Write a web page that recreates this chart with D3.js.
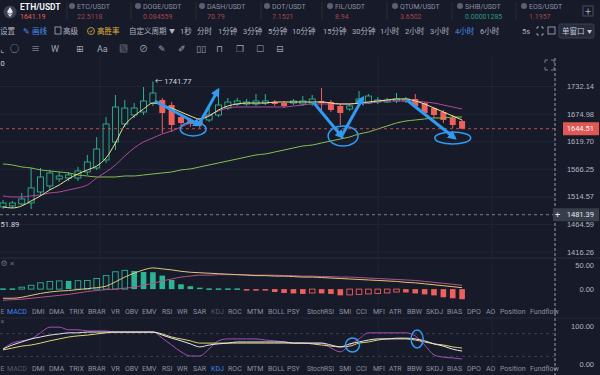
<!DOCTYPE html>
<html>
<head>
<meta charset="utf-8">
<script src="https://cdn.jsdelivr.net/npm/d3@7"></script>
<style>
  body { margin: 0; background: #161a29; }
  svg { display: block; font-family: Roboto, "Noto Sans CJK SC", "DejaVu Sans", sans-serif; }
</style>
</head>
<body>
<svg id="chart" width="600" height="375"></svg>
<script>
// Step-1 : chart values //
var tickerNames = ["ETH/USDT", "ETC/USDT", "DOGE/USDT", "DASH/USDT", "DOT/USDT", "FIL/USDT", "QTUM/USDT", "SHIB/USDT", "EOS/USDT"];
var tickerPrices = ["1641.19", "22.5118", "0.084559", "70.79", "7.1521", "8.94", "3.6502", "0.00001285", "1.1957"];
var tickerRising = [false, false, false, false, false, false, false, true, false];

var toolbarLabels = ["设置", "画线", "高级", "高胜率", "自定义周期", "1秒", "分时", "1分钟", "3分钟", "5分钟", "10分钟", "15分钟", "30分钟", "1小时", "2小时", "3小时", "4小时", "6小时", "5s"];
var indicatorTabs = ["MACD", "DMI", "DMA", "TRIX", "BRAR", "VR", "OBV", "EMV", "RSI", "WR", "SAR", "KDJ", "ROC", "MTM", "BOLL", "PSY", "StochRSI", "SMI", "CCI", "MFI", "ATR", "BBW", "SKDJ", "BIAS", "DPO", "AO", "Position", "Fundflow"];

var priceTicks = [1732.14, 1674.98, 1619.70, 1566.25, 1514.57, 1464.59, 1416.26];
var lastPrice = 1644.51;
var crossPrice = 1481.39;
var highMark = 1741.77;
var lowMark = "51.89";
var macdTicks = [50, 0];
var kdjTicks = [100, 0];

var open = [1495.5, 1497.3, 1500.9, 1502.7, 1522.9, 1534.1, 1547.2, 1549.0, 1549.0, 1560.4, 1568.0, 1583.3, 1618.3, 1654.0, 1672.2, 1678.3, 1696.7, 1702.9, 1692.6, 1668.1, 1662.1, 1660.0, 1662.1, 1672.2, 1686.4, 1694.7, 1694.7, 1694.7, 1696.7, 1698.8, 1696.7, 1696.7, 1694.7, 1696.7, 1700.9, 1698.8, 1690.6, 1684.4, 1696.7, 1696.7, 1698.8, 1698.8, 1700.9, 1700.9, 1705.0, 1696.7, 1686.4, 1678.3, 1666.1, 1660.0];
var high = [1508.2, 1506.4, 1521.1, 1568.0, 1568.0, 1564.2, 1560.4, 1560.4, 1569.9, 1592.9, 1628.1, 1668.1, 1713.3, 1702.9, 1696.7, 1730.0, 1741.77, 1707.1, 1698.8, 1674.2, 1666.1, 1664.1, 1686.4, 1723.7, 1707.1, 1707.1, 1705.0, 1715.4, 1715.4, 1702.9, 1700.9, 1705.0, 1711.2, 1713.3, 1727.9, 1702.9, 1694.7, 1694.7, 1721.6, 1715.4, 1709.1, 1707.1, 1717.5, 1709.1, 1715.4, 1698.8, 1688.5, 1682.4, 1672.2, 1662.1];
var low = [1491.8, 1493.6, 1499.1, 1491.8, 1515.6, 1526.7, 1541.6, 1543.4, 1543.4, 1554.7, 1564.2, 1577.5, 1602.6, 1648.0, 1666.1, 1672.2, 1690.6, 1636.0, 1638.0, 1650.0, 1648.0, 1646.0, 1658.0, 1668.1, 1682.4, 1690.6, 1690.6, 1690.6, 1692.6, 1690.6, 1686.4, 1692.6, 1690.6, 1690.6, 1678.3, 1678.3, 1652.0, 1680.3, 1690.6, 1694.7, 1694.7, 1696.7, 1696.7, 1696.7, 1686.4, 1672.2, 1666.1, 1656.0, 1646.0, 1643.5];
var close = [1502.7, 1502.7, 1510.1, 1530.4, 1550.9, 1558.5, 1552.8, 1554.7, 1562.3, 1579.4, 1604.5, 1654.0, 1688.5, 1686.4, 1686.4, 1700.9, 1717.5, 1676.3, 1652.0, 1656.0, 1654.0, 1652.0, 1672.2, 1692.6, 1698.8, 1700.9, 1698.8, 1700.9, 1700.9, 1694.7, 1690.6, 1700.9, 1700.9, 1705.0, 1696.7, 1682.4, 1676.3, 1690.6, 1705.0, 1711.2, 1702.9, 1702.9, 1705.0, 1705.0, 1690.6, 1676.3, 1672.2, 1662.1, 1652.0, 1644.51];

var maFast = [1495.5, 1493.6, 1497.3, 1506.4, 1515.6, 1526.7, 1535.9, 1547.2, 1556.6, 1564.2, 1571.8, 1587.2, 1616.3, 1652.0, 1670.2, 1684.4, 1696.7, 1692.6, 1686.4, 1678.3, 1670.2, 1664.1, 1670.2, 1682.4, 1690.6, 1694.7, 1696.7, 1696.7, 1696.7, 1698.8, 1698.8, 1698.8, 1698.8, 1698.8, 1698.8, 1696.7, 1694.7, 1694.7, 1696.7, 1698.8, 1700.9, 1702.9, 1705.0, 1705.0, 1700.9, 1694.7, 1686.4, 1678.3, 1670.2, 1662.1];
var maMid = [1515.6, 1513.7, 1513.7, 1515.6, 1517.4, 1521.1, 1522.9, 1526.7, 1530.4, 1535.9, 1549.0, 1560.4, 1573.7, 1591.0, 1606.5, 1618.3, 1626.2, 1634.1, 1640.0, 1648.0, 1656.0, 1664.1, 1672.2, 1680.3, 1686.4, 1688.5, 1688.5, 1688.5, 1688.5, 1688.5, 1688.5, 1690.6, 1692.6, 1694.7, 1694.7, 1694.7, 1694.7, 1694.7, 1696.7, 1696.7, 1698.8, 1700.9, 1700.9, 1700.9, 1700.9, 1698.8, 1696.7, 1692.6, 1688.5, 1684.4];
var maSlow = [1575.6, 1573.7, 1569.9, 1568.0, 1564.2, 1562.3, 1560.4, 1558.5, 1554.7, 1552.8, 1550.9, 1550.9, 1550.9, 1552.8, 1552.8, 1554.7, 1556.6, 1558.5, 1560.4, 1564.2, 1566.1, 1569.9, 1573.7, 1577.5, 1581.4, 1585.2, 1589.1, 1592.9, 1594.9, 1598.7, 1602.6, 1606.5, 1610.4, 1612.3, 1616.3, 1620.2, 1624.1, 1628.1, 1634.1, 1638.0, 1644.0, 1650.0, 1656.0, 1660.0, 1662.1, 1664.1, 1666.1, 1666.1, 1668.1, 1668.1];

var macdHist = [1.5, 1.5, 4, 8, 13, 16, 17, 17, 17.5, 18, 22, 28, 36, 39, 37.5, 35.6, 35, 28, 19, 10, 6, 3, 1.5, 1.5, 1.5, 1.5, -1.5, -1.5, -2, -6, -8, -9, -10, -8, -9, -10, -13, -12, -11, -10, -9, -8, -6, -7, -9, -11, -13, -17, -19, -21];
var macdDif = [-19, -19, -17, -13, -9, -6, -4, -3, -1, 1, 3, 6, 15, 25, 33, 40, 44, 42, 40, 37, 35, 34, 33, 32, 31, 30, 29, 28, 28, 27, 27, 26, 25, 25, 24, 23, 22, 21, 20, 19, 18, 17, 16, 14, 13, 11, 9, 7, 5, 3];
var macdDea = [-23, -22, -21, -19, -17, -15, -13, -11, -8, -5, -3, -1, 0, 2, 4, 8, 12, 17, 21, 25, 27, 29, 29, 30, 30, 30, 30, 29, 29, 29, 28, 28, 27, 27, 26, 26, 25, 25, 24, 23, 22, 21, 20, 19, 18, 16, 14, 12, 10, 8];

var kdjK = [39.5, 50, 58, 66, 71, 76, 79, 82, 82, 84, 84, 84, 84, 84, 84, 84, 84, 76, 68, 61, 53, 45, 50, 53, 55, 58, 58, 58, 58, 58, 58, 55, 55, 55, 55, 50, 45, 53, 58, 63, 66, 66, 68, 68, 66, 61, 53, 47, 39, 34];
var kdjD = [37, 42, 47, 50, 55, 61, 66, 71, 74, 76, 79, 82, 84, 84, 84, 84, 84, 79, 71, 66, 61, 55, 55, 55, 55, 55, 55, 55, 55, 55, 55, 55, 55, 53, 50, 47, 45, 47, 55, 58, 63, 66, 66, 66, 63, 58, 53, 50, 45, 42];
var kdjJ = [40, 55, 61, 66, 82, 97, 97, 90, 90, 87, 87, 87, 84, 84, 84, 84, 84, 68, 50, 32, 21, 21, 40, 61, 66, 66, 66, 66, 63, 61, 58, 55, 55, 55, 55, 42, 32, 50, 66, 82, 82, 82, 82, 82, 74, 50, 24, 18, 16, 13];

// hand drawn notes on the screenshot, in (candle index, price) space
var noteArrows = [[16.2, 1700.9, 21, 1652.0], [21, 1656.0, 22.95, 1723.7], [33.1, 1698.8, 36.2, 1628.1], [36.2, 1632.0, 38.4, 1707.1], [43.1, 1702.9, 48.2, 1626.1]];
var noteRings = [[20.3, 1644.0, 13, 7], [36.3, 1630.1, 15, 10], [48, 1626.1, 18, 6]];
var kdjRings = [[37.3, 50, 7, 7], [44.2, 66, 6, 9]];

/** main drawing */

var svg = d3.select("#chart");
var bg = "#161a29";
var upColor = "#2ab593", downColor = "#ef5f5c", blue = "#2f9cf0";
var rightEdge = 555;

var x = d3.scaleLinear().domain([0, 49]).range([3, 462.1]);
var y = d3.scaleLog().domain([1405.5, 1792.1]).range([258, 58]);
var ym = d3.scaleLinear().domain([-33, 64.6]).range([305, 258]);
var yk = d3.scaleLinear().domain([0, 100]).range([364, 326]);

svg.append("rect").attr("width", 600).attr("height", 375).attr("fill", bg);

var defs = svg.append("defs");
defs.append("clipPath").attr("id", "mainClip")
  .append("rect").attr("x", 0).attr("y", 58).attr("width", rightEdge).attr("height", 200);
defs.append("marker")
  .attr("id", "head")
  .attr("viewBox", "0 0 10 10")
  .attr("refX", 7).attr("refY", 5)
  .attr("markerWidth", 9).attr("markerHeight", 9)
  .attr("markerUnits", "userSpaceOnUse")
  .attr("orient", "auto")
  .append("path").attr("d", "M0,0L10,5L0,10z").attr("fill", blue);

// ticker bar
var tickerX = [20, 77, 143, 207, 272, 335, 400, 465, 529];
var tick = svg.append("g");
tick.selectAll("line.sep")
  .data([67, 131, 196, 261, 322, 387, 452, 516])
  .enter().append("line")
  .attr("x1", d => d).attr("x2", d => d)
  .attr("y1", 2).attr("y2", 20)
  .attr("stroke", "#262b3b");

tick.append("circle").attr("cx", 10).attr("cy", 12).attr("r", 6.5).attr("fill", "#3b4050");
tick.append("path").attr("d", "M10,7L13,12L10,14L7,12Z M7,12.8L10,17L13,12.8L10,14.8Z").attr("fill", "#e6e8ee");

tick.selectAll("text.name")
  .data(tickerNames)
  .enter().append("text")
  .attr("x", (d, i) => tickerX[i])
  .attr("y", (d, i) => i == 0 ? 10 : 8.5)
  .attr("font-size", (d, i) => i == 0 ? 8.5 : 7)
  .attr("font-weight", (d, i) => i == 0 ? "bold" : "normal")
  .attr("fill", (d, i) => i == 0 ? "#eef0f5" : "#8c91a0")
  .text(d => d);

tick.selectAll("text.price")
  .data(tickerPrices)
  .enter().append("text")
  .attr("x", (d, i) => tickerX[i])
  .attr("y", 18.5)
  .attr("font-size", 7)
  .attr("fill", (d, i) => i == 0 ? "#e5605c" : (tickerRising[i] ? "#2a9d7f" : "#a2474e"))
  .text(d => d);

tick.selectAll("circle.coin")
  .data(tickerNames.slice(1))
  .enter().append("circle")
  .attr("cx", (d, i) => tickerX[i + 1] - 5)
  .attr("cy", 6)
  .attr("r", 3)
  .attr("fill", "#5c6170");

tick.append("rect").attr("x", 583).attr("y", 6).attr("width", 10).attr("height", 10)
  .attr("fill", "none").attr("stroke", "#4a4f5e");
tick.append("text").attr("x", 588).attr("y", 14.5).attr("text-anchor", "middle")
  .attr("font-size", 10).attr("fill", "#9ea3b1").text("+");

// period toolbar
var toolX = [0, 32, 63, 97, 129, 180, 197, 218, 243, 268, 292, 323, 352, 380, 405, 430, 455, 480, 522];
var toolColor = { "画线": "#4a8ff0", "高胜率": "#e2b23f", "4小时": "#4a8ff0" };
svg.append("g").selectAll("text")
  .data(toolbarLabels)
  .enter().append("text")
  .attr("x", (d, i) => toolX[i])
  .attr("y", 33.5)
  .attr("font-size", 7.5)
  .attr("fill", d => toolColor[d] || "#b0b4c1")
  .text(d => d);

svg.append("text").attr("x", 23).attr("y", 34).attr("font-size", 8).attr("fill", "#4a8ff0").text("✎");
svg.append("rect").attr("x", 55).attr("y", 27).attr("width", 6).attr("height", 7)
  .attr("fill", "none").attr("stroke", "#b0b4c1").attr("stroke-width", 0.8);
svg.append("circle").attr("cx", 91).attr("cy", 31).attr("r", 3.5)
  .attr("fill", "none").attr("stroke", "#e2b23f").attr("stroke-width", 0.8);
svg.append("path").attr("d", "M89.5,31L90.7,32.3L92.7,29.8").attr("fill", "none").attr("stroke", "#e2b23f").attr("stroke-width", 0.8);
svg.append("text").attr("x", 169).attr("y", 33).attr("font-size", 6).attr("fill", "#b0b4c1").text("▼");
svg.append("path").attr("d", "M537,27h2M537,27v2M543,27h-2M543,27v2M537,35h2M537,35v-2M543,35h-2M543,35v-2")
  .attr("stroke", "#b0b4c1").attr("stroke-width", 0.8);
svg.append("rect").attr("x", 548).attr("y", 27).attr("width", 7).attr("height", 7)
  .attr("fill", "none").attr("stroke", "#b0b4c1").attr("stroke-width", 0.8);
svg.append("rect").attr("x", 559).attr("y", 24).attr("width", 35).attr("height", 14).attr("rx", 1.5)
  .attr("fill", "#262b3c").attr("stroke", "#3a3f51");
svg.append("text").attr("x", 562).attr("y", 33.5).attr("font-size", 7.5).attr("fill", "#c4c8d3").text("单窗口");
svg.append("text").attr("x", 587).attr("y", 33).attr("font-size", 5).attr("fill", "#c4c8d3").text("▼");

// drawing tools row
var toolIcons = ["⌞", "○", "≡", "W", "⊞", "Aa", "▧", "⊘", "✎", "✐", "▯▯", "⊓", "❐", "☐", "⊟"];
var iconX = [0, 10, 31, 51, 76, 97, 119, 139, 158, 178, 196, 216, 236, 256, 276];
svg.append("g").selectAll("text")
  .data(toolIcons)
  .enter().append("text")
  .attr("x", (d, i) => iconX[i])
  .attr("y", 52)
  .attr("font-size", 9)
  .attr("fill", "#a2a6b3")
  .text(d => d);

// panel separators
svg.append("line").attr("x1", 0).attr("x2", 600).attr("y1", 258).attr("y2", 258).attr("stroke", "#2a2f3f");
svg.append("line").attr("x1", 0).attr("x2", 600).attr("y1", 318).attr("y2", 318).attr("stroke", "#222636");

// grid
var grid = svg.append("g");
grid.append("g")
  .call(d3.axisLeft(y).tickValues(priceTicks).tickSize(-rightEdge).tickFormat(""))
  .call(g => g.select(".domain").remove())
  .selectAll("line").attr("stroke", "#212536");
grid.selectAll("line.v")
  .data([100, 378, 492])
  .enter().append("line")
  .attr("x1", d => d).attr("x2", d => d)
  .attr("y1", 58).attr("y2", 375)
  .attr("stroke", "#1f2333");

// main panel
var main = svg.append("g").attr("clip-path", "url(#mainClip)");

var idx = d3.range(open.length);

main.selectAll("line.wick")
  .data(idx)
  .enter().append("line")
  .attr("x1", i => x(i)).attr("x2", i => x(i))
  .attr("y1", i => y(high[i])).attr("y2", i => y(low[i]))
  .attr("stroke", i => close[i] >= open[i] ? upColor : downColor)
  .attr("stroke-width", 1);

main.selectAll("rect.body")
  .data(idx)
  .enter().append("rect")
  .attr("x", i => x(i) - 3)
  .attr("width", 6)
  .attr("y", i => y(Math.max(open[i], close[i])))
  .attr("height", i => Math.max(1, Math.abs(y(open[i]) - y(close[i]))))
  .attr("fill", i => close[i] >= open[i] ? bg : downColor)
  .attr("stroke", i => close[i] >= open[i] ? upColor : "none")
  .attr("stroke-width", 0.9);

var maLine = d3.line().x((d, i) => x(i)).y(d => y(d)).curve(d3.curveMonotoneX);
[[maSlow, "#86c04f"], [maMid, "#b04a9c"], [maFast, "#ede58f"]].forEach(function (s) {
  main.append("path")
    .attr("d", maLine(s[0]))
    .attr("fill", "none")
    .attr("stroke", s[1])
    .attr("stroke-width", 1);
});

// last price and crosshair
svg.append("line").attr("x1", 0).attr("x2", rightEdge)
  .attr("y1", y(lastPrice)).attr("y2", y(lastPrice))
  .attr("stroke", "#d8585a").attr("stroke-dasharray", "3,3").attr("opacity", 0.85);
svg.append("line").attr("x1", 0).attr("x2", rightEdge)
  .attr("y1", y(crossPrice)).attr("y2", y(crossPrice))
  .attr("stroke", "#7d8292").attr("stroke-dasharray", "3,3");
svg.append("line").attr("x1", rightEdge).attr("x2", rightEdge)
  .attr("y1", 58).attr("y2", 375)
  .attr("stroke", "#9a9fad").attr("stroke-dasharray", "3,2");

// high / low marks
svg.append("text").attr("x", x(16) + 2).attr("y", y(highMark) + 2.5)
  .attr("font-size", 7.5).attr("fill", "#d6d9e1").text("← " + highMark.toFixed(2));
svg.append("text").attr("x", 0.5).attr("y", 226.5)
  .attr("font-size", 7.5).attr("fill", "#d6d9e1").text(lowMark);
svg.append("text").attr("x", 0.5).attr("y", 65.5).attr("font-size", 7.5).attr("fill", "#d6d9e1").text("0");

// price axis
var axisG = svg.append("g").attr("transform", "translate(594,0)");
axisG.call(d3.axisLeft(y).tickValues(priceTicks).tickSize(0).tickPadding(0).tickFormat(d3.format(".2f")))
  .call(g => g.select(".domain").remove());
axisG.selectAll("text").attr("font-size", 7.5).attr("fill", "#b3b7c4").attr("font-family", null);

svg.append("rect").attr("x", 563).attr("y", y(lastPrice) - 6.5).attr("width", 36).attr("height", 13)
  .attr("fill", "#e05753");
svg.append("text").attr("x", 594).attr("y", y(lastPrice) + 2.7).attr("text-anchor", "end")
  .attr("font-size", 7.5).attr("fill", "#ffffff").text(lastPrice.toFixed(2));
svg.append("rect").attr("x", 553).attr("y", y(crossPrice) - 6.5).attr("width", 46).attr("height", 13)
  .attr("fill", "#383d4c");
svg.append("text").attr("x", 557.5).attr("y", y(crossPrice) + 3).attr("text-anchor", "middle")
  .attr("font-size", 9).attr("fill", "#e8eaf0").text("+");
svg.append("text").attr("x", 594).attr("y", y(crossPrice) + 2.7).attr("text-anchor", "end")
  .attr("font-size", 7.5).attr("fill", "#e8eaf0").text(crossPrice.toFixed(2));

// corner icon
svg.append("path").attr("d", "M545,63v-3h3M551,60h3v3M545,67v3h3M554,67v3h-3")
  .attr("fill", "none").attr("stroke", "#8a8f9e").attr("stroke-width", 0.8);

// notes drawn on the chart
var notes = svg.append("g");
notes.selectAll("line.arrow")
  .data(noteArrows)
  .enter().append("line")
  .attr("x1", d => x(d[0])).attr("y1", d => y(d[1]))
  .attr("x2", d => x(d[2])).attr("y2", d => y(d[3]))
  .attr("stroke", blue).attr("stroke-width", 3)
  .attr("marker-end", "url(#head)");
notes.selectAll("ellipse")
  .data(noteRings)
  .enter().append("ellipse")
  .attr("cx", d => x(d[0])).attr("cy", d => y(d[1]))
  .attr("rx", d => d[2]).attr("ry", d => d[3])
  .attr("fill", "none").attr("stroke", blue).attr("stroke-width", 1.5);

// MACD panel
var macd = svg.append("g");
macd.append("text").attr("x", 0.5).attr("y", 266).attr("font-size", 8).attr("fill", "#6b7080").text("⚙");
macd.append("text").attr("x", 10).attr("y", 266).attr("font-size", 8).attr("fill", "#6b7080").text("×");

macd.selectAll("rect.hist")
  .data(idx)
  .enter().append("rect")
  .attr("x", i => x(i) - 2.8)
  .attr("width", 5.6)
  .attr("y", i => Math.min(ym(macdHist[i]), ym(0)))
  .attr("height", i => Math.max(1.5, Math.abs(ym(macdHist[i]) - ym(0))))
  .attr("fill", function (i) {
    var c = macdHist[i] >= 0 ? upColor : downColor;
    return (i > 0 && macdHist[i] > macdHist[i - 1]) ? "none" : c;
  })
  .attr("stroke", function (i) {
    var c = macdHist[i] >= 0 ? upColor : downColor;
    return (i > 0 && macdHist[i] > macdHist[i - 1]) ? c : "none";
  })
  .attr("stroke-width", 0.9);

var mLine = d3.line().x((d, i) => x(i)).y(d => ym(d)).curve(d3.curveMonotoneX);
macd.append("path").attr("d", mLine(macdDea)).attr("fill", "none").attr("stroke", "#b8508e").attr("stroke-width", 1);
macd.append("path").attr("d", mLine(macdDif)).attr("fill", "none").attr("stroke", "#e0c878").attr("stroke-width", 1);

var macdAxis = svg.append("g").attr("transform", "translate(594,0)");
macdAxis.call(d3.axisLeft(ym).tickValues(macdTicks).tickSize(0).tickPadding(0).tickFormat(d3.format(".2f")))
  .call(g => g.select(".domain").remove());
macdAxis.selectAll("text").attr("font-size", 7.5).attr("fill", "#b3b7c4").attr("font-family", null);

// indicator tabs
var tabX = [7, 32, 49, 69, 88, 111, 125, 142, 162, 177, 193, 211, 228, 247, 268, 287, 307, 339, 356, 373, 389, 407, 426, 447, 467, 486, 500, 530];
[[313.5, "MACD"], [370.5, "KDJ"]].forEach(function (row) {
  var g = svg.append("g");
  g.append("text").attr("x", 0.5).attr("y", row[0]).attr("font-size", 7).attr("fill", "#7d8292").text("E");
  g.selectAll("text.tab")
    .data(indicatorTabs)
    .enter().append("text")
    .attr("x", (d, i) => tabX[i])
    .attr("y", row[0])
    .attr("font-size", 7)
    .attr("fill", function (d) {
      if (d == row[1]) return "#3f86f0";
      if (row[1] == "KDJ" && d == "MACD") return "#575c6b";
      if (row[1] == "MACD" && d == "KDJ") return "#575c6b";
      return "#8d92a1";
    })
    .text(d => d)
    .each(function (d) {
      // the long labels are squeezed in the app
      if (d == "StochRSI") d3.select(this).attr("textLength", 27).attr("lengthAdjust", "spacingAndGlyphs");
    });
});

// KDJ panel
var kdj = svg.append("g");
kdj.selectAll("line.lvl")
  .data([80, 20])
  .enter().append("line")
  .attr("x1", 0).attr("x2", rightEdge)
  .attr("y1", d => yk(d)).attr("y2", d => yk(d))
  .attr("stroke", "#3a3f50").attr("stroke-dasharray", "3,3");
kdj.append("text").attr("x", 0.5).attr("y", 324).attr("font-size", 7).attr("fill", "#6b7080").text("×");

var kLine = d3.line().x((d, i) => x(i)).y(d => yk(d)).curve(d3.curveMonotoneX);
[[kdjJ, "#a94fb8"], [kdjD, "#e3d573"], [kdjK, "#e6e8ee"]].forEach(function (s) {
  kdj.append("path")
    .attr("d", kLine(s[0]))
    .attr("fill", "none")
    .attr("stroke", s[1])
    .attr("stroke-width", 1);
});

kdj.selectAll("ellipse")
  .data(kdjRings)
  .enter().append("ellipse")
  .attr("cx", d => x(d[0])).attr("cy", d => yk(d[1]))
  .attr("rx", d => d[2]).attr("ry", d => d[3])
  .attr("fill", "none").attr("stroke", blue).attr("stroke-width", 1.5);

var kdjAxis = svg.append("g").attr("transform", "translate(594,0)");
kdjAxis.call(d3.axisLeft(yk).tickValues(kdjTicks).tickSize(0).tickPadding(0).tickFormat(d3.format(".2f")))
  .call(g => g.select(".domain").remove());
kdjAxis.selectAll("text").attr("font-size", 7.5).attr("fill", "#b3b7c4").attr("font-family", null);
</script>
</body>
</html>
